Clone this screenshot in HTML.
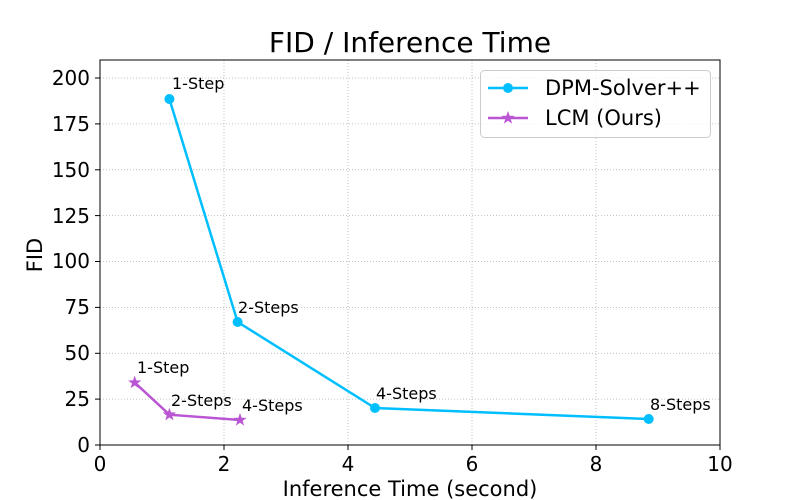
<!DOCTYPE html>
<html><head><meta charset="utf-8"><style>
html,body{margin:0;padding:0;background:#fff;width:800px;height:500px;overflow:hidden;}
svg{display:block;}
svg text{font-family:"DejaVu Sans","Liberation Sans",sans-serif;}
</style></head><body>
<svg width="800" height="500" viewBox="0 0 800 500" xmlns="http://www.w3.org/2000/svg">
<rect width="800" height="500" fill="#fff"/>
<g stroke="#b0b0b0" stroke-width="0.8" stroke-dasharray="1,2">
<line x1="100" y1="60" x2="100" y2="445"/>
<line x1="224" y1="60" x2="224" y2="445"/>
<line x1="348" y1="60" x2="348" y2="445"/>
<line x1="472" y1="60" x2="472" y2="445"/>
<line x1="596" y1="60" x2="596" y2="445"/>
<line x1="720" y1="60" x2="720" y2="445"/>
<line x1="100" y1="445" x2="720" y2="445"/>
<line x1="100" y1="399.1" x2="720" y2="399.1"/>
<line x1="100" y1="353.3" x2="720" y2="353.3"/>
<line x1="100" y1="307.4" x2="720" y2="307.4"/>
<line x1="100" y1="261.5" x2="720" y2="261.5"/>
<line x1="100" y1="215.6" x2="720" y2="215.6"/>
<line x1="100" y1="169.8" x2="720" y2="169.8"/>
<line x1="100" y1="123.9" x2="720" y2="123.9"/>
<line x1="100" y1="78" x2="720" y2="78"/>
</g>
<rect x="100" y="60" width="620" height="385" fill="none" stroke="#000" stroke-width="1"/>
<g stroke="#000" stroke-width="1">
<line x1="100" y1="445" x2="100" y2="450"/><line x1="224" y1="445" x2="224" y2="450"/><line x1="348" y1="445" x2="348" y2="450"/><line x1="472" y1="445" x2="472" y2="450"/><line x1="596" y1="445" x2="596" y2="450"/><line x1="720" y1="445" x2="720" y2="450"/>
<line x1="95" y1="445" x2="100" y2="445"/><line x1="95" y1="399.1" x2="100" y2="399.1"/><line x1="95" y1="353.3" x2="100" y2="353.3"/><line x1="95" y1="307.4" x2="100" y2="307.4"/><line x1="95" y1="261.5" x2="100" y2="261.5"/><line x1="95" y1="215.6" x2="100" y2="215.6"/><line x1="95" y1="169.8" x2="100" y2="169.8"/><line x1="95" y1="123.9" x2="100" y2="123.9"/><line x1="95" y1="78" x2="100" y2="78"/>
</g>
<g font-size="20" fill="#000" text-anchor="middle">
<text x="100" y="471">0</text><text x="224" y="471">2</text><text x="348" y="471">4</text><text x="472" y="471">6</text><text x="596" y="471">8</text><text x="720" y="471">10</text>
</g>
<g font-size="20" fill="#000" text-anchor="end">
<text x="90" y="452">0</text><text x="90" y="406">25</text><text x="90" y="360">50</text><text x="90" y="314">75</text><text x="90" y="268">100</text><text x="90" y="223">125</text><text x="90" y="177">150</text><text x="90" y="131">175</text><text x="90" y="85">200</text>
</g>
<text x="410" y="496" font-size="21" text-anchor="middle">Inference Time (second)</text>
<text transform="translate(42,255) rotate(-90)" font-size="21" text-anchor="middle">FID</text>
<text x="410" y="52" font-size="28" text-anchor="middle">FID / Inference Time</text>
<polyline points="169.4,99 237.6,322 375,408 648.7,419" fill="none" stroke="#00bfff" stroke-width="2.5"/>
<g fill="#00bfff"><circle cx="169.4" cy="99" r="5"/><circle cx="237.6" cy="322" r="5"/><circle cx="375" cy="408" r="5"/><circle cx="648.7" cy="419" r="5"/></g>
<polyline points="134.7,382.6 169.4,414.7 240,420" fill="none" stroke="#ba55d3" stroke-width="2.5"/>
<defs><polygon id="st" points="0,-7 1.65,-2.27 6.66,-2.16 2.67,0.87 4.11,5.66 0,2.8 -4.11,5.66 -2.67,0.87 -6.66,-2.16 -1.65,-2.27" fill="#ba55d3"/></defs>
<use href="#st" x="134.7" y="382.6"/><use href="#st" x="169.4" y="414.7"/><use href="#st" x="240" y="420"/>
<g font-size="16" fill="#000">
<text x="172" y="89">1-Step</text><text x="238" y="313">2-Steps</text><text x="376" y="399">4-Steps</text><text x="650" y="410">8-Steps</text>
<text x="137" y="373">1-Step</text><text x="171" y="406">2-Steps</text><text x="242" y="411">4-Steps</text>
</g>
<rect x="480.5" y="70.5" width="230" height="67" rx="4" fill="#fff" fill-opacity="0.8" stroke="#ccc"/>
<line x1="488" y1="88" x2="528" y2="88" stroke="#00bfff" stroke-width="2.5"/><circle cx="508" cy="88" r="5" fill="#00bfff"/>
<line x1="488" y1="118" x2="528" y2="118" stroke="#ba55d3" stroke-width="2.5"/><use href="#st" x="508" y="118"/>
<text x="545" y="95" font-size="21">DPM-Solver++</text>
<text x="545" y="125" font-size="21">LCM (Ours)</text>
</svg>
</body></html>
